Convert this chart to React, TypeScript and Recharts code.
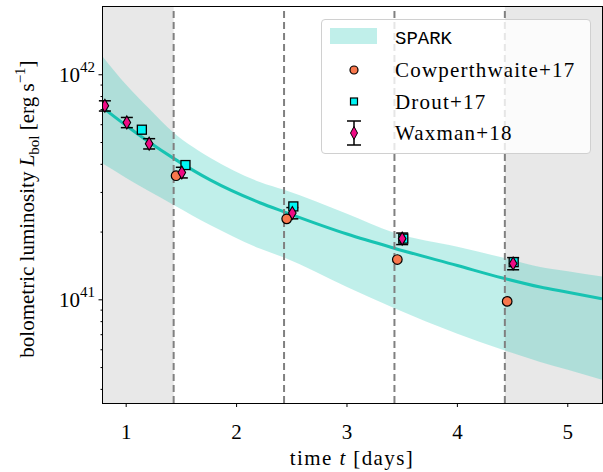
import React from 'react';
import {
  ComposedChart, Area, Line, Scatter, ErrorBar, XAxis, YAxis, ReferenceArea, ReferenceLine,
} from 'recharts';

// model curve + band
const TIMES = [0.79, 1.0, 1.2, 1.43, 1.76, 2.21, 2.43, 3.0, 3.42, 4.0, 4.41, 4.75, 5.0, 5.31];
const MODEL = [7.13e41, 5.95e41, 5.05e41, 4.25e41, 3.41e41, 2.7e41, 2.46e41, 1.96e41, 1.7e41, 1.42e41, 1.25e41, 1.14e41, 1.08e41, 1.01e41];
const BAND_HI = [1.2e42, 9.03e41, 7.13e41, 5.52e41, 4.28e41, 3.34e41, 3.08e41, 2.41e41, 1.99e41, 1.72e41, 1.54e41, 1.4e41, 1.34e41, 1.27e41];
const BAND_LO = [4.02e41, 3.48e41, 3.05e41, 2.64e41, 2.15e41, 1.69e41, 1.54e41, 1.14e41, 9.21e40, 7.06e40, 6.0e40, 5.3e40, 4.89e40, 4.41e40];

// observations
const COWP_T = [1.452, 2.454, 3.456, 4.451];
const COWP_L = [3.56e41, 2.29e41, 1.51e41, 9.84e40];
const DROUT_T = [1.142, 1.537, 2.514, 3.51, 4.51];
const DROUT_L = [5.7e41, 3.97e41, 2.6e41, 1.87e41, 1.47e41];
const WAX_T = [0.807, 1.006, 1.208, 1.504, 2.505, 3.5, 4.505];
const WAX_L = [7.28e41, 6.14e41, 4.94e41, 3.68e41, 2.43e41, 1.87e41, 1.45e41];
const WAX_ERR = [0.38e41, 0.32e41, 0.26e41, 0.2e41, 0.14e41, 0.11e41, 0.09e41];

const X_TICKS = [1, 2, 3, 4, 5];
const Y_TICKS = [4e40, 5e40, 6e40, 7e40, 8e40, 9e40, 1e41, 2e41, 3e41, 4e41, 5e41, 6e41, 7e41, 8e41, 9e41, 1e42];
const Y_MAJOR = [1e41, 1e42];
const Y_MAJOR_EXP = ['41', '42'];
const EPOCHS = [1.43, 2.43, 3.43, 4.43];

const X_DOMAIN = [0.79, 5.31];
const Y_DOMAIN = [3.48e40, 2.0e42];

const SERIF = '"Liberation Serif", "DejaVu Serif", serif';
const MONO = '"Liberation Mono", "DejaVu Sans Mono", monospace';
const TEAL = '#17c3b2';
const ORANGE = '#f8774d';
const CYAN = '#00f5f5';
const PINK = '#ee0a84';

const modelData = TIMES.map((t, i) => ({ t, model: MODEL[i], band: [BAND_LO[i], BAND_HI[i]] }));
const cowpData = COWP_T.map((t, i) => ({ t, L: COWP_L[i] }));
const droutData = DROUT_T.map((t, i) => ({ t, L: DROUT_L[i] }));
const waxData = WAX_T.map((t, i) => ({ t, L: WAX_L[i], err: WAX_ERR[i] }));

const XTick = ({ x, y, payload }: any) => (
  <g>
    <line x1={x} x2={x} y1={y} y2={y + 4} stroke="#000" strokeWidth={1} />
    <text x={x} y={y + 36} textAnchor="middle" fontFamily={SERIF} fontSize={21} fill="#000">
      {payload.value}
    </text>
  </g>
);

const YTick = ({ x, y, payload }: any) => {
  const idx = Y_MAJOR.indexOf(payload.value);
  const major = idx >= 0;
  return (
    <g>
      <line x1={x} x2={x - (major ? 4.5 : 2.5)} y1={y} y2={y} stroke="#000" strokeWidth={1} />
      {major && (
        <text x={x - 8} y={y + 7} textAnchor="end" fontFamily={SERIF} fontSize={21} fill="#000">
          10<tspan dy={-10} fontSize={15}>{Y_MAJOR_EXP[idx]}</tspan>
        </text>
      )}
    </g>
  );
};

const circle = (p: any) => <circle cx={p.cx} cy={p.cy} r={4.8} fill={ORANGE} stroke="#000" strokeWidth={1.2} />;
const square = (p: any) => <rect x={p.cx - 4.5} y={p.cy - 4.5} width={9} height={9} fill={CYAN} stroke="#000" strokeWidth={1.3} />;
const diamond = (p: any) => (
  <path d={`M${p.cx},${p.cy - 6.5}L${p.cx + 3.8},${p.cy}L${p.cx},${p.cy + 6.5}L${p.cx - 3.8},${p.cy}Z`} fill={PINK} stroke="#000" strokeWidth={1.1} />
);

function LegendBox() {
  return (
    <div style={{
      position: 'absolute', left: 321, top: 19, width: 270, height: 135, boxSizing: 'border-box',
      border: '1px solid #d0d0d0', borderRadius: 4, background: 'rgba(255,255,255,0.8)',
    }}>
      <svg width={270} height={135} style={{ position: 'absolute', left: -1, top: -1 }}>
        <rect x={9} y={9} width={47} height={16} fill={TEAL} fillOpacity={0.27} />
        <text x={74} y={25} fontFamily={MONO} fontSize={19}>SPARK</text>
        <circle cx={33} cy={51} r={4} fill={ORANGE} stroke="#000" strokeWidth={1.2} />
        <text x={74} y={58} fontFamily={SERIF} fontSize={21} letterSpacing={1.2}>Cowperthwaite+17</text>
        <rect x={29.5} y={79} width={7} height={7} fill={CYAN} stroke="#000" strokeWidth={1.2} />
        <text x={74} y={90} fontFamily={SERIF} fontSize={21} letterSpacing={1.2}>Drout+17</text>
        <line x1={33} x2={33} y1={102} y2={126} stroke="#000" strokeWidth={1.5} />
        <line x1={26} x2={40} y1={102} y2={102} stroke="#000" strokeWidth={1.5} />
        <line x1={26} x2={40} y1={126} y2={126} stroke="#000" strokeWidth={1.5} />
        <path d="M33,107.5L36.5,114L33,120.5L29.5,114Z" fill={PINK} stroke="#000" strokeWidth={1} />
        <text x={74} y={121} fontFamily={SERIF} fontSize={21} letterSpacing={1.2}>Waxman+18</text>
      </svg>
    </div>
  );
}

export default function App() {
  return (
    <div style={{ position: 'absolute', left: 0, top: 0, width: 603, height: 472, background: '#fff' }}>
      <ComposedChart width={603} height={472} data={modelData} margin={{ top: 7, right: 1, left: 0, bottom: 0 }}>
        <XAxis
          dataKey="t" type="number" domain={X_DOMAIN} allowDataOverflow ticks={X_TICKS}
          height={69} axisLine={false} tickLine={false} tickSize={0} tickMargin={0} tick={<XTick />}
          label={{
            content: () => (
              <text x={352} y={465} textAnchor="middle" fontFamily={SERIF} fontSize={21} letterSpacing={1.4} fill="#000">
                time <tspan fontStyle="italic">t</tspan> [days]
              </text>
            ),
          }}
        />
        <YAxis
          type="number" scale="log" domain={Y_DOMAIN} allowDataOverflow ticks={Y_TICKS} interval={0}
          width={103} axisLine={false} tickLine={false} tickSize={0} tickMargin={0} tick={<YTick />}
          label={{
            content: () => (
              <text transform="translate(34,209) rotate(-90)" x={0} y={0} textAnchor="middle" fontFamily={SERIF} fontSize={21} fill="#000">
                bolometric luminosity <tspan fontStyle="italic">L</tspan>
                <tspan dy={5} fontSize={15}>bol</tspan>
                <tspan dy={-5}> [erg s</tspan>
                <tspan dy={-9} fontSize={15}>−1</tspan>
                <tspan dy={9}>]</tspan>
              </text>
            ),
          }}
        />
        <ReferenceArea x1={X_DOMAIN[0]} x2={EPOCHS[0]} y1={Y_DOMAIN[0]} y2={Y_DOMAIN[1]} fill="#e8e8e8" fillOpacity={1} stroke="none" ifOverflow="hidden" />
        <ReferenceArea x1={EPOCHS[3]} x2={X_DOMAIN[1]} y1={Y_DOMAIN[0]} y2={Y_DOMAIN[1]} fill="#e8e8e8" fillOpacity={1} stroke="none" ifOverflow="hidden" />
        <Area dataKey="band" type="monotone" fill={TEAL} fillOpacity={0.27} stroke="none" isAnimationActive={false} />
        <Line dataKey="model" type="monotone" stroke={TEAL} strokeWidth={3} dot={false} isAnimationActive={false} />
        {EPOCHS.map((e) => (
          <ReferenceLine key={e} x={e} stroke="#808080" strokeWidth={2} strokeDasharray="7 4" />
        ))}
        <Scatter data={cowpData} dataKey="L" shape={circle} isAnimationActive={false} />
        <Scatter data={droutData} dataKey="L" shape={square} isAnimationActive={false} />
        <Scatter data={waxData} dataKey="L" shape={diamond} isAnimationActive={false}>
          <ErrorBar dataKey="err" direction="y" width={6} stroke="#000" strokeWidth={1.5} />
        </Scatter>
      </ComposedChart>
      <div style={{
        position: 'absolute', left: 102, top: 6, width: 501, height: 398, boxSizing: 'border-box',
        border: '1px solid #000', pointerEvents: 'none',
      }} />
      <LegendBox />
    </div>
  );
}
